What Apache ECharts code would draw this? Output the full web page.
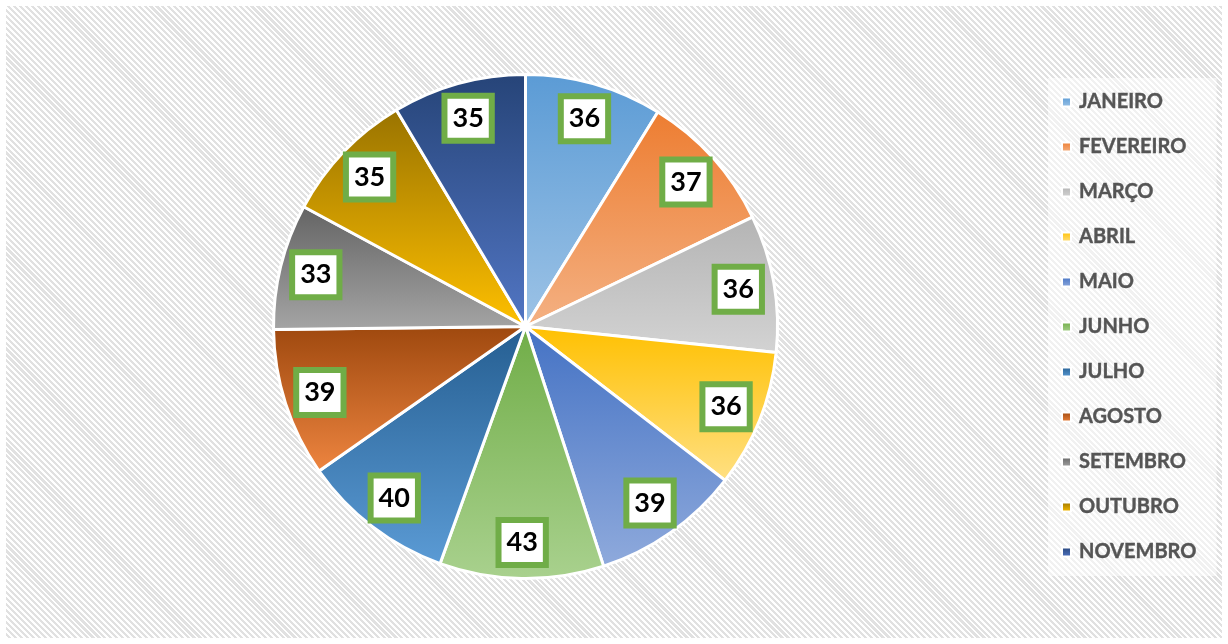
<!DOCTYPE html>
<html lang="pt">

<head>
    <meta charset="UTF-8">
    <title>Meses</title>
    <script src="https://cdn.jsdelivr.net/npm/echarts@6/dist/echarts.min.js"></script>
    <style>
        * {
            margin: 0;
            padding: 0
        }

        html,
        body {
            width: 100%;
            height: 100%;
            background: #fff;
            overflow: hidden;
        }

        #bg {
            position: absolute;
            left: 6px;
            top: 6px;
            right: 6px;
            bottom: 6px;
            background: repeating-linear-gradient(45deg, #ffffff 0px, #ffffff 2px, #e1e1e1 2px, #e1e1e1 4.2px);
        }

        #main {
            position: absolute;
            left: 0;
            top: 0;
            width: 1228px;
            height: 644px;
        }
    </style>
</head>

<body>
    <div id="bg"></div>
    <div id="main"></div>

    <script>
        var meses = ['JANEIRO', 'FEVEREIRO', 'MARÇO', 'ABRIL', 'MAIO', 'JUNHO', 'JULHO', 'AGOSTO', 'SETEMBRO', 'OUTUBRO', 'NOVEMBRO'];
        var valores = [36, 37, 36, 36, 39, 43, 40, 39, 33, 35, 35];

        // cor de cima / cor de baixo de cada fatia
        var corTopo = ['#5B9BD5', '#ED7D31', '#B4B4B4', '#FFC000', '#4472C4', '#70AD47', '#255E91', '#9E480E', '#636363', '#997300', '#264478'];
        var corBase = ['#9DC3E6', '#F4B183', '#D3D3D3', '#FFE083', '#8FAADC', '#A9D18E', '#5B9BD5', '#EE8540', '#A5A5A5', '#FFC000', '#5276C4'];

        var grad = function (i) {
            return new echarts.graphic.LinearGradient(0, 0, 0, 1, [
                { offset: 0, color: corTopo[i] },
                { offset: 1, color: corBase[i] }
            ]);
        };

        var dados = meses.map(function (m, i) {
            return { name: m, value: valores[i], itemStyle: { color: grad(i) } };
        });
        var dadosRotulo = meses.map(function (m, i) {
            return { name: m, value: valores[i] };
        });

        var chart = echarts.init(document.getElementById('main'));
        chart.setOption({
            animation: false,
            legend: {
                orient: 'vertical',
                left: 1048,
                top: 78,
                padding: [13, 20, 13, 13],
                backgroundColor: 'rgba(255,255,255,0.55)',
                itemWidth: 9,
                itemHeight: 9,
                itemGap: 23,
                icon: 'rect',
                data: meses,
                textStyle: {
                    fontFamily: 'Lato',
                    fontWeight: 'bold',
                    fontSize: 20,
                    lineHeight: 22,
                    color: '#555',
                    textBorderColor: '#555',
                    textBorderWidth: 0.4,
                    padding: [0, 0, 0, 3]
                }
            },
            series: [{
                name: 'meses',
                type: 'pie',
                center: [525.5, 326.5],
                radius: [0, 252],
                startAngle: 90,
                clockwise: true,
                data: dados,
                label: { show: false },
                labelLine: { show: false },
                itemStyle: {
                    borderColor: '#fff',
                    borderWidth: 3
                },
                emphasis: { disabled: true }
            }, {
                name: 'rotulos',
                type: 'pie',
                center: [525.5, 326.5],
                radius: [174, 252],
                startAngle: 90,
                clockwise: true,
                silent: true,
                data: dadosRotulo,
                itemStyle: { color: 'rgba(0,0,0,0)', borderWidth: 0 },
                labelLine: { show: false },
                label: {
                    show: true,
                    position: 'inside',
                    formatter: '{c}',
                    fontFamily: 'Lato',
                    fontWeight: 'bold',
                    fontSize: 27,
                    lineHeight: 30,
                    color: '#000',
                    backgroundColor: '#fff',
                    borderColor: '#70AD47',
                    borderWidth: 6,
                    padding: [5, 5, 4, 5]
                },
                emphasis: { disabled: true }
            }]
        });
    </script>
</body>

</html>
